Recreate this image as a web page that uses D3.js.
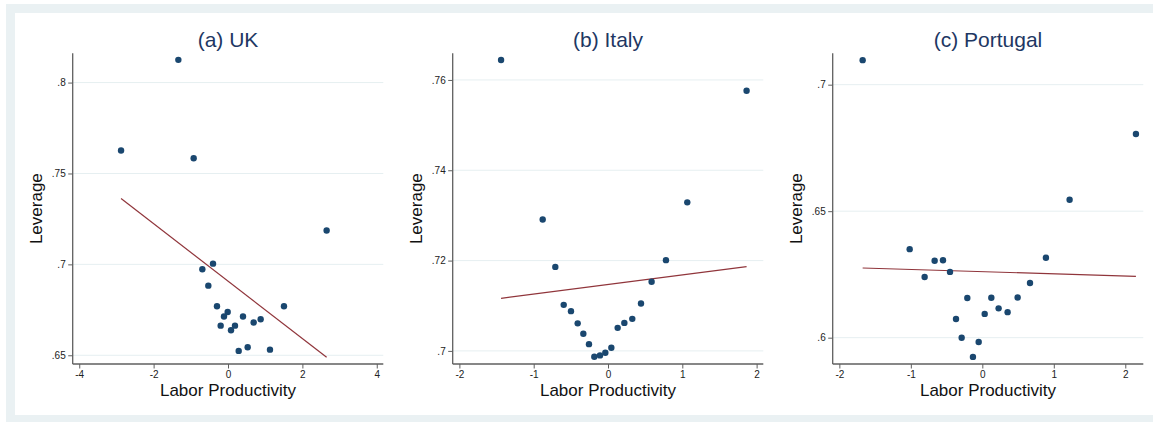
<!DOCTYPE html>
<html>
<head>
<meta charset="utf-8">
<script src="https://cdn.jsdelivr.net/npm/d3@7"></script>
<style>
    body { margin: 0; background: #fff; }
    svg text { font-family: "Liberation Sans", Arial, sans-serif; }
    .tickLabel { font-size: 10px; fill: #222; }
    .axisLabel { font-size: 17px; fill: #111; }
    .panelTitle { font-size: 21px; fill: #1e3763; }
</style>
</head>
<body>
<div id="chart"></div>
<script>
// Panel titles
const titles = ['(a) UK', '(b) Italy', '(c) Portugal'];

// UK
const ukProd = [-1.335, -2.876, -0.923, 2.652, -0.403, -0.69, -0.529, -0.296, -0.009, -0.108,
    0.403, -0.197, 0.188, 0.081, 0.69, 0.878, 1.505, 0.287, 0.529, 1.129];
const ukLev = [.8125, .7626, .7584, .7186, .7004, .6973, .6883, .677, .6738, .6713,
    .6713, .6663, .6663, .6638, .668, .6698, .677, .6524, .6544, .6531];
const ukFit = { intercept: .6908, slope: -.01579 };
const ukXTicks = [-4, -2, 0, 2, 4];
const ukYTicks = [.65, .7, .75, .8];

// Italy
const itProd = [-1.439, 1.865, 1.067, -0.879, -0.709, 0.78, 0.587, -0.596, -0.498, 0.444,
    -0.408, 0.327, 0.22, 0.13, -0.332, -0.256, 0.045, -0.036, -0.108, -0.184];
const itLev = [.7644, .7576, .7329, .7291, .7186, .7201, .7153, .7102, .7088, .7105,
    .7061, .7071, .7062, .7051, .7038, .7015, .7007, .6996, .699, .6987];
const itFit = { intercept: .7147, slope: .00212 };
const itXTicks = [-2, -1, 0, 1, 2];
const itYTicks = [.7, .72, .74, .76];

// Portugal
const ptProd = [-1.674, 2.149, 1.221, -1.016, 0.89, -0.667, -0.55, -0.452, -0.807, 0.667,
    -0.21, 0.126, 0.494, 0.228, 0.354, 0.033, -0.368, -0.289, -0.051, -0.131];
const ptLev = [.7097, .6805, .6545, .635, .6316, .6304, .6306, .626, .624, .6216,
    .6157, .6158, .6159, .6116, .6101, .6094, .6074, .6, .5983, .5924];
const ptFit = { intercept: .6261, slope: -.000863 };
const ptXTicks = [-2, -1, 0, 1, 2];
const ptYTicks = [.6, .65, .7];

// Axis ranges shown in each panel
const ukXDomain = [-4.176, 4.176], ukYDomain = [.6452, .8161];
const itXDomain = [-2.09, 2.09], itYDomain = [.6971, .7659];
const ptXDomain = [-2.093, 2.252], ptYDomain = [.5896, .7124];

const W = 1153, H = 422;

const svg = d3.select('#chart')
    .append('svg')
    .attr('width', W)
    .attr('height', H);

// Stata style outer frame
svg.append('rect')
    .attr('x', 6).attr('y', 4)
    .attr('width', W).attr('height', H)
    .attr('fill', '#eaf1f3');
svg.append('rect')
    .attr('x', 15).attr('y', 13)
    .attr('width', W).attr('height', 415 - 13)
    .attr('fill', '#fff');

const fmtY = d => String(d).replace(/^0\./, '.');

// One scatter + fitted line panel
function panel(offsetX, title, xs, ys, fit, xTicks, yTicks, xDomain, yDomain) {
    const left = 72.7, right = 383.3, top = 53.3, bottom = 364;

    const g = svg.append('g')
        .attr('transform', 'translate(' + offsetX + ',0)');

    const xScale = d3.scaleLinear().domain(xDomain).range([left, right]);
    const yScale = d3.scaleLinear().domain(yDomain).range([bottom, top]);

    // Gridlines
    g.append('g')
        .selectAll('line')
        .data(yTicks)
        .join('line')
        .attr('x1', left)
        .attr('x2', right)
        .attr('y1', d => yScale(d))
        .attr('y2', d => yScale(d))
        .attr('stroke', '#e6eff1')
        .attr('stroke-width', 1);

    // Y axis
    const yAxis = g.append('g')
        .attr('transform', 'translate(' + left + ',0)')
        .call(d3.axisLeft(yScale).tickValues(yTicks).tickFormat(fmtY).tickSize(4.5).tickPadding(2.5));
    yAxis.select('.domain').attr('d', 'M0,' + top + 'V' + bottom);

    // X axis
    const xAxis = g.append('g')
        .attr('transform', 'translate(0,' + bottom + ')')
        .call(d3.axisBottom(xScale).tickValues(xTicks).tickFormat(d => String(d)).tickSize(4.5).tickPadding(2));
    xAxis.select('.domain').attr('d', 'M' + left + ',0H' + right);

    g.selectAll('.domain').attr('stroke', '#5f5f5f').attr('stroke-width', 1.3);
    g.selectAll('.tick line').attr('stroke', '#5f5f5f').attr('stroke-width', 1);
    g.selectAll('.tick text')
        .attr('class', 'tickLabel')
        .attr('font-family', null)
        .attr('font-size', null)
        .attr('fill', null);

    // Fitted line over the data range
    const xMin = d3.min(xs), xMax = d3.max(xs);
    g.append('path')
        .datum([xMin, xMax])
        .attr('fill', 'none')
        .attr('stroke', '#90353b')
        .attr('stroke-width', 1.2)
        .attr('d', d3.line()
            .x(d => xScale(d))
            .y(d => yScale(fit.intercept + fit.slope * d)));

    // Points
    g.append('g')
        .selectAll('circle')
        .data(d3.zip(xs, ys))
        .join('circle')
        .attr('cx', d => xScale(d[0]))
        .attr('cy', d => yScale(d[1]))
        .attr('r', 3.2)
        .attr('fill', '#1a476f');

    // Title
    g.append('text')
        .attr('class', 'panelTitle')
        .attr('x', (left + right) / 2)
        .attr('y', 46.5)
        .attr('text-anchor', 'middle')
        .text(title);

    // Axis labels
    g.append('text')
        .attr('class', 'axisLabel')
        .attr('x', (left + right) / 2)
        .attr('y', 396)
        .attr('text-anchor', 'middle')
        .text('Labor Productivity');

    g.append('text')
        .attr('class', 'axisLabel')
        .attr('transform', 'translate(42,' + ((top + bottom) / 2) + ') rotate(-90)')
        .attr('text-anchor', 'middle')
        .text('Leverage');
}

panel(0, titles[0], ukProd, ukLev, ukFit, ukXTicks, ukYTicks, ukXDomain, ukYDomain);
panel(380, titles[1], itProd, itLev, itFit, itXTicks, itYTicks, itXDomain, itYDomain);
panel(760, titles[2], ptProd, ptLev, ptFit, ptXTicks, ptYTicks, ptXDomain, ptYDomain);
</script>
</body>
</html>
